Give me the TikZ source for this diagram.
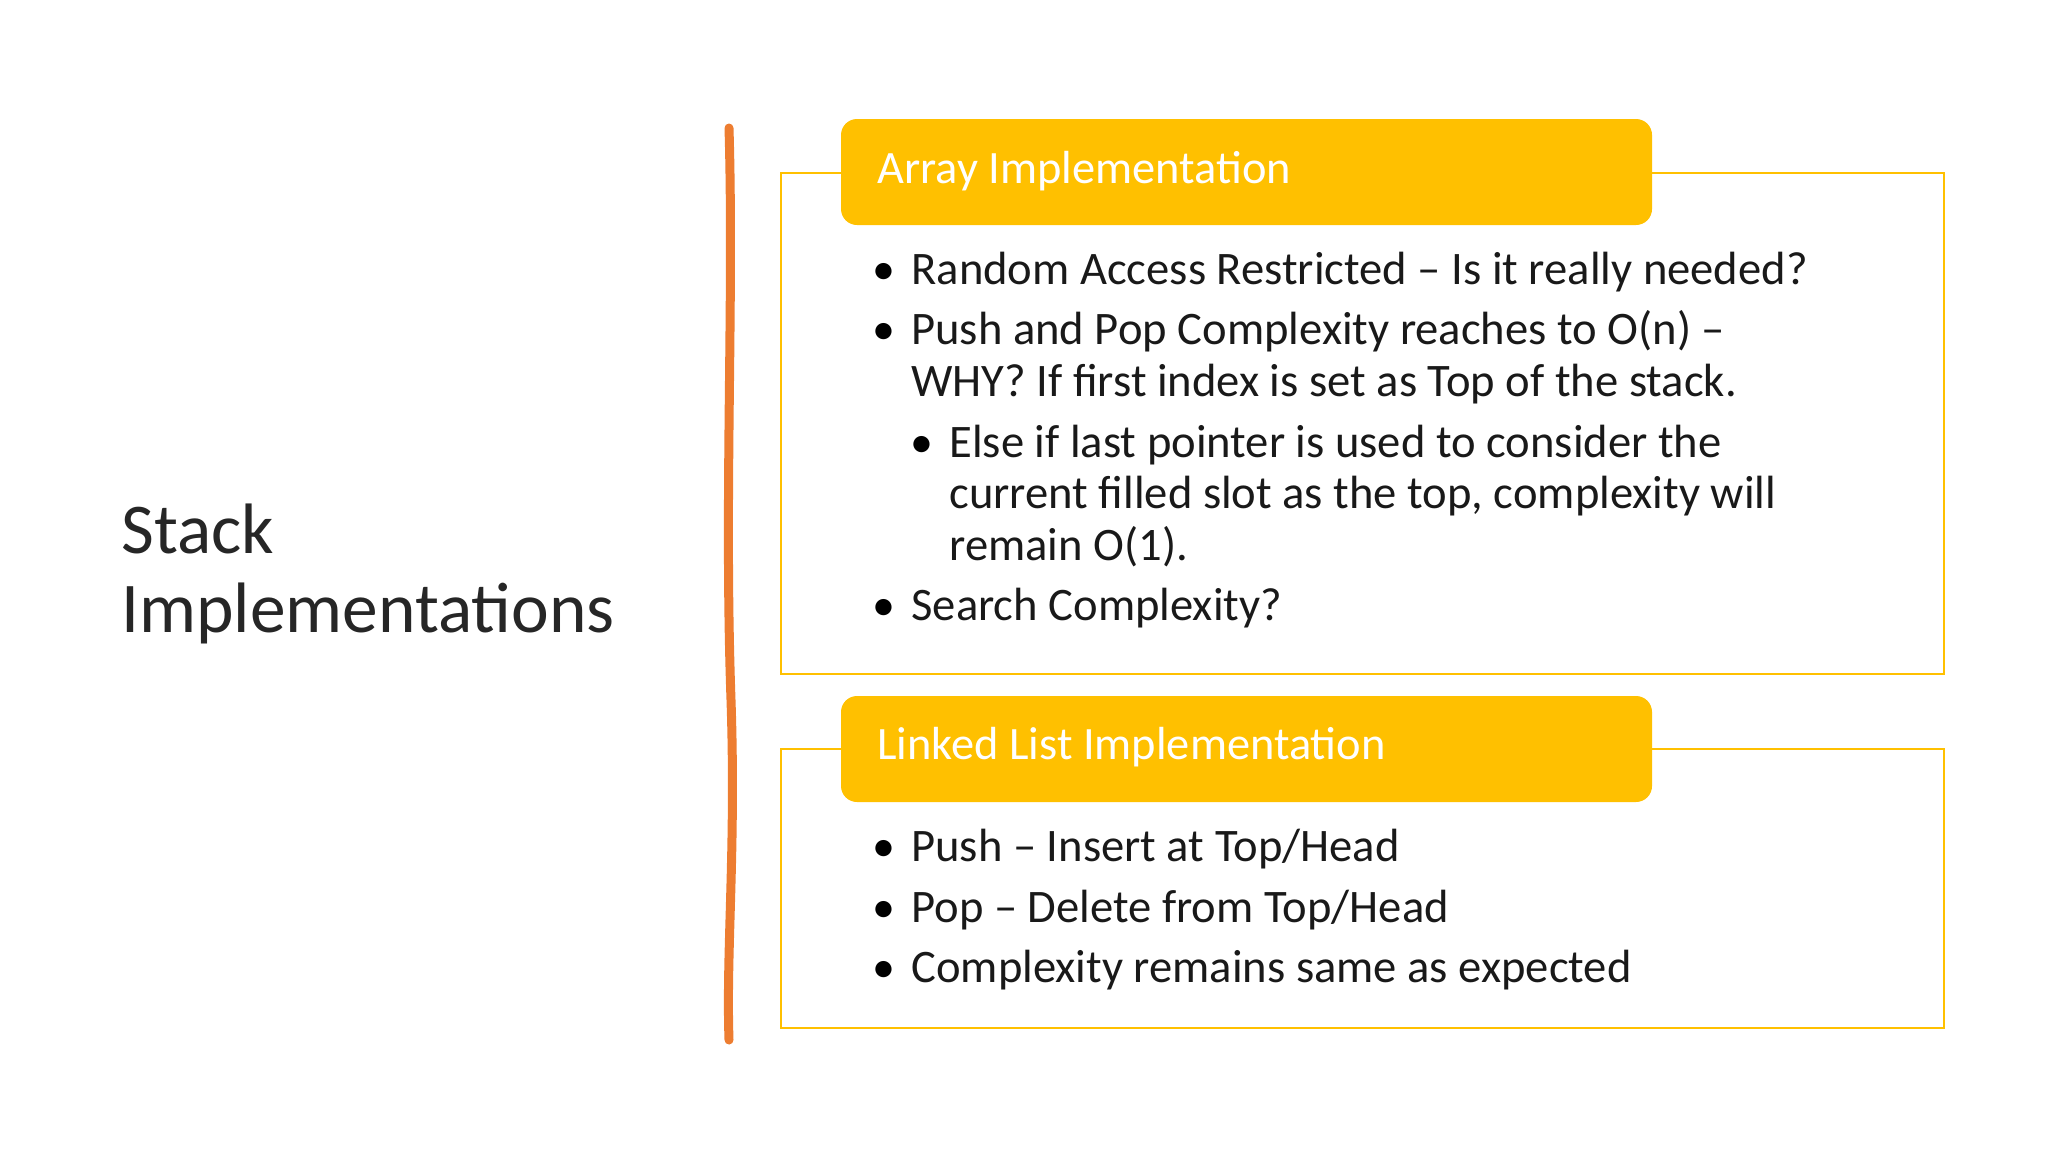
\documentclass[tikz,border=0pt]{standalone}
\usepackage{fontspec}
\setmainfont{Carlito}
\definecolor{yel}{HTML}{FFC000}
\definecolor{org}{HTML}{ED7D31}
\begin{document}
\begin{tikzpicture}[x=0.5pt,y=-0.5pt,
  body/.style={anchor=base west,inner sep=0pt,font=\fontsize{23.3}{28}\selectfont,text=black!90},
  hdr/.style={anchor=base west,inner sep=0pt,font=\fontsize{23.2}{28}\selectfont,text=white},
  bul/.style={anchor=base,inner sep=0pt,font=\fontsize{23}{28}\selectfont},
  frame/.style={draw=yel,line width=1.3pt},
  head/.style={fill=yel,rounded corners=8pt}]
\useasboundingbox (0,0) rectangle (2048,1152);
\node[anchor=base west,inner sep=0pt,font=\fontsize{35.7}{40}\selectfont,text=black!85] (t1) at (121,553) {Stack};
\node[anchor=base west,inner sep=0pt,font=\fontsize{35.7}{40}\selectfont,text=black!85] (t2) at (121,632) {Implementations};
\coordinate (la) at (729,128); \coordinate (lb) at (729,1040);
\draw[org,line width=4.5pt,line cap=round] (la) .. controls (734,300) and (724,500) .. (731,700) .. controls (736,850) and (726,950) .. (lb);
% box 1
\draw[frame] (781,173) rectangle (1944,674);
\fill[head] (841,119) rectangle (1652,225);
\node[hdr] (h1) at (877,183) {Array Implementation};
\foreach \y/\t in {284/{Random Access Restricted – Is it really needed?},344/{Push and Pop Complexity reaches to O(n) –},396/{WHY? If first index is set as Top of the stack.},620/{Search Complexity?}}
  \node[body] at (911,\y) {\t};
\foreach \y in {284,344,620} \node[bul] at (884,\y) {•};
\node[bul] at (922,457) {•};
\foreach \y/\t in {457/{Else if last pointer is used to consider the},508/{current filled slot as the top, complexity will},560/{remain O(1).}}
  \node[body] at (949,\y) {\t};
% box 2
\draw[frame] (781,749) rectangle (1944,1028);
\fill[head] (841,696) rectangle (1652,802);
\node[hdr] (h2) at (877,759) {Linked List Implementation};
\foreach \y/\t in {861/{Push – Insert at Top/Head},922/{Pop – Delete from Top/Head},982/{Complexity remains same as expected}}
  {\node[body] at (911,\y) {\t}; \node[bul] at (884,\y) {•};}
\end{tikzpicture}
\end{document}
